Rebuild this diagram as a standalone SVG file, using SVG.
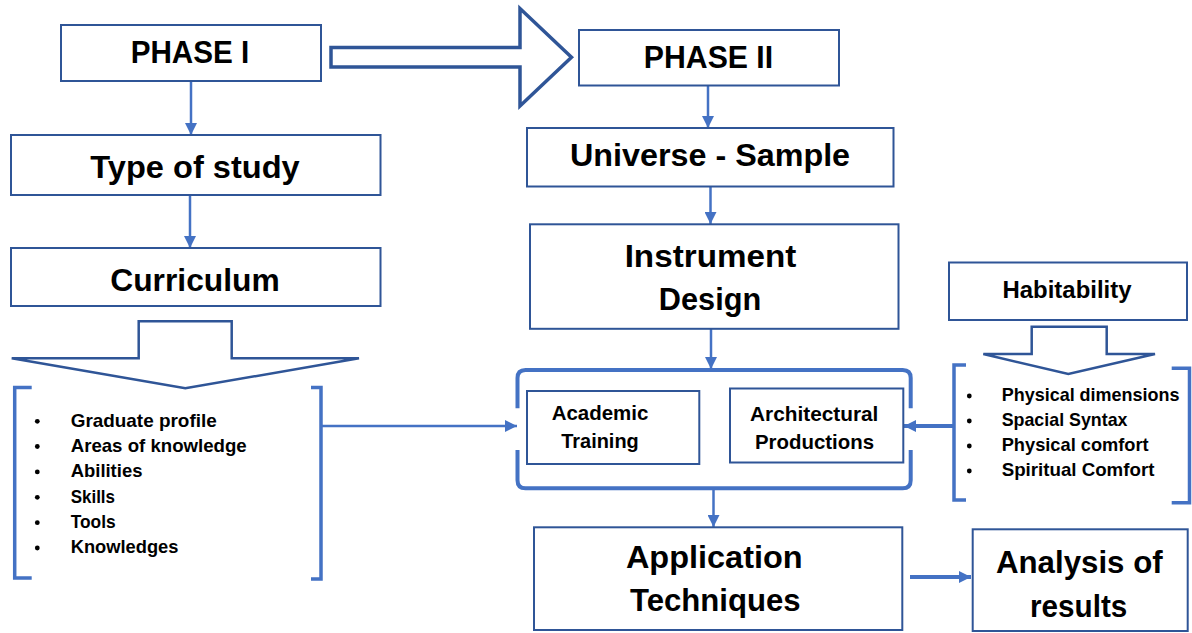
<svg xmlns="http://www.w3.org/2000/svg" width="1192" height="633" viewBox="0 0 1192 633">
<style>
.box{fill:#fff;stroke:#2F5597;stroke-width:2}
.blk{fill:#fff;stroke:#2F5597;stroke-width:2.5;stroke-linejoin:miter}
.big{fill:#fff;stroke:#2F5597;stroke-width:3.5;stroke-linejoin:miter}
.brk{fill:none;stroke:#4472C4;stroke-width:3.5}
.con{fill:none;stroke:#4472C4;stroke-width:2.5}
.con4{fill:none;stroke:#4472C4;stroke-width:4}
text{font-family:"Liberation Sans",Arial,sans-serif;font-weight:bold;fill:#000}
.t1{font-size:32px;text-anchor:middle}
.t2{font-size:30.5px;text-anchor:middle}
.t3{font-size:21px;text-anchor:middle}
.t4{font-size:23px;text-anchor:middle}
.li{font-size:19px}
.dot{fill:#000}
</style>
<defs>
<marker id="ah" markerUnits="userSpaceOnUse" markerWidth="12" markerHeight="12" viewBox="0 0 12 12" refX="12" refY="6" orient="auto">
<path d="M0,0 L12,6 L0,12 Z" fill="#4472C4"/>
</marker>
</defs>

<g id="connectors">
<line class="con" x1="191" y1="81" x2="191" y2="135" marker-end="url(#ah)"/>
<line class="con" x1="190" y1="195" x2="190" y2="248" marker-end="url(#ah)"/>
<line class="con" x1="708" y1="86" x2="708" y2="128" marker-end="url(#ah)"/>
<line class="con" x1="710.5" y1="187" x2="710.5" y2="224" marker-end="url(#ah)"/>
<line class="con" x1="711" y1="329" x2="711" y2="369" marker-end="url(#ah)"/>
<line class="con" x1="713.5" y1="489" x2="713.5" y2="527" marker-end="url(#ah)"/>
<line class="con" x1="322" y1="426" x2="517" y2="426" marker-end="url(#ah)"/>
<line class="con4" x1="953" y1="426" x2="904" y2="426" marker-end="url(#ah)"/>
<line class="con4" x1="910" y1="577" x2="971" y2="577" marker-end="url(#ah)"/>
</g>

<g id="phase1-arrow">
<polygon class="big" points="331,47.5 520,47.5 520,8.5 571.5,57.3 520,106 520,67 331,67"/>
</g>

<g id="phase1">
<rect class="box" x="61" y="25" width="260" height="56"/>
<text class="t1" x="190" y="63.3" textLength="118.6" lengthAdjust="spacingAndGlyphs">PHASE I</text>
</g>

<g id="phase2">
<rect class="box" x="579" y="30" width="260" height="55.5"/>
<text class="t1" x="708.5" y="68.3" textLength="129.3" lengthAdjust="spacingAndGlyphs">PHASE II</text>
</g>

<g id="type-of-study">
<rect class="box" x="11" y="135" width="369.5" height="60"/>
<text class="t1" x="195" y="178.3" textLength="209.3" lengthAdjust="spacingAndGlyphs">Type of study</text>
</g>

<g id="curriculum">
<rect class="box" x="11" y="248" width="369.5" height="58"/>
<text class="t1" x="195" y="290.7" textLength="169.5" lengthAdjust="spacingAndGlyphs">Curriculum</text>
</g>

<g id="universe-sample">
<rect class="box" x="527" y="128" width="366.5" height="58.5"/>
<text class="t1" x="710" y="165.7" textLength="280.2" lengthAdjust="spacingAndGlyphs">Universe - Sample</text>
</g>

<g id="instrument-design">
<rect class="box" x="530" y="224.3" width="368.5" height="104.5"/>
<text class="t1" x="710.5" y="266.7" textLength="171.7" lengthAdjust="spacingAndGlyphs">Instrument</text>
<text class="t1" x="710" y="310" textLength="102.4" lengthAdjust="spacingAndGlyphs">Design</text>
</g>

<g id="habitability">
<rect class="box" x="949" y="262.5" width="238" height="57.5"/>
<text class="t4" x="1067" y="297.7" textLength="128.9" lengthAdjust="spacingAndGlyphs">Habitability</text>
</g>

<g id="curriculum-arrow">
<polygon class="blk" points="138.7,321.3 231.7,321.3 231.7,358.3 359,358.3 185.3,388.3 11.7,358.3 138.7,358.3"/>
</g>

<g id="curriculum-list">
<path class="brk" d="M31.7,387.5 H14.7 V578 H31.7"/>
<path class="brk" d="M311,387.5 H321 V579 H311"/>
<circle class="dot" cx="37.3" cy="421.3" r="2.4"/>
<circle class="dot" cx="37.3" cy="446.5" r="2.4"/>
<circle class="dot" cx="37.3" cy="471.9" r="2.4"/>
<circle class="dot" cx="37.3" cy="497.3" r="2.4"/>
<circle class="dot" cx="37.3" cy="522.7" r="2.4"/>
<circle class="dot" cx="37.3" cy="548" r="2.4"/>
<text class="li" x="70.7" y="426.7" textLength="146" lengthAdjust="spacingAndGlyphs">Graduate profile</text>
<text class="li" x="70.7" y="451.9" textLength="176" lengthAdjust="spacingAndGlyphs">Areas of knowledge</text>
<text class="li" x="70.7" y="477.3" textLength="71.7" lengthAdjust="spacingAndGlyphs">Abilities</text>
<text class="li" x="70.7" y="502.7" textLength="44.3" lengthAdjust="spacingAndGlyphs">Skills</text>
<text class="li" x="70.7" y="528.1" textLength="45" lengthAdjust="spacingAndGlyphs">Tools</text>
<text class="li" x="70.7" y="553.4" textLength="107.7" lengthAdjust="spacingAndGlyphs">Knowledges</text>
</g>

<g id="habitability-arrow">
<polygon class="blk" points="1031.7,326.7 1106.7,326.7 1106.7,354 1155,354 1068.3,374 983.3,354 1031.7,354"/>
</g>

<g id="habitability-list">
<path class="brk" d="M966,365 H954 V500 H966"/>
<path class="brk" d="M1171.7,368.3 H1189.5 V502.7 H1171.7"/>
<circle class="dot" cx="969.3" cy="396" r="2.4"/>
<circle class="dot" cx="969.3" cy="421" r="2.4"/>
<circle class="dot" cx="969.3" cy="446" r="2.4"/>
<circle class="dot" cx="969.3" cy="471" r="2.4"/>
<text class="li" x="1001.7" y="401" textLength="177.8" lengthAdjust="spacingAndGlyphs">Physical dimensions</text>
<text class="li" x="1001.7" y="426" textLength="125.8" lengthAdjust="spacingAndGlyphs">Spacial Syntax</text>
<text class="li" x="1001.7" y="451" textLength="147" lengthAdjust="spacingAndGlyphs">Physical comfort</text>
<text class="li" x="1001.7" y="476" textLength="152.7" lengthAdjust="spacingAndGlyphs">Spiritual Comfort</text>
</g>

<g id="application-group">
<path fill="none" stroke="#4472C4" stroke-width="4" d="M517.5,408.3 V378 Q517.5,370 525.5,370 H902.7 Q910.7,370 910.7,378 V408.3"/>
<path fill="none" stroke="#4472C4" stroke-width="4" d="M517.5,450 V480.3 Q517.5,488.3 525.5,488.3 H902.7 Q910.7,488.3 910.7,480.3 V450"/>
</g>

<g id="academic-training">
<rect class="box" x="527" y="391" width="172.3" height="73"/>
<text class="t3" x="600" y="420" textLength="96.7" lengthAdjust="spacingAndGlyphs">Academic</text>
<text class="t3" x="600" y="447.7" textLength="77.5" lengthAdjust="spacingAndGlyphs">Training</text>
</g>

<g id="architectural-productions">
<rect class="box" x="730" y="388.5" width="173.3" height="74"/>
<text class="t3" x="814.2" y="420.7" textLength="128.3" lengthAdjust="spacingAndGlyphs">Architectural</text>
<text class="t3" x="814.5" y="449" textLength="119" lengthAdjust="spacingAndGlyphs">Productions</text>
</g>

<g id="application-techniques">
<rect class="box" x="534" y="527.3" width="368.3" height="102.7"/>
<text class="t2" x="714.3" y="567.7" textLength="176.7" lengthAdjust="spacingAndGlyphs">Application</text>
<text class="t2" x="715.3" y="610.7" textLength="170.7" lengthAdjust="spacingAndGlyphs">Techniques</text>
</g>

<g id="analysis-of-results">
<rect class="box" x="972.7" y="529.3" width="215" height="101.7"/>
<text class="t2" x="1079.3" y="573.3" textLength="166.7" lengthAdjust="spacingAndGlyphs">Analysis of</text>
<text class="t2" x="1078.7" y="616.7" textLength="97.3" lengthAdjust="spacingAndGlyphs">results</text>
</g>
</svg>
